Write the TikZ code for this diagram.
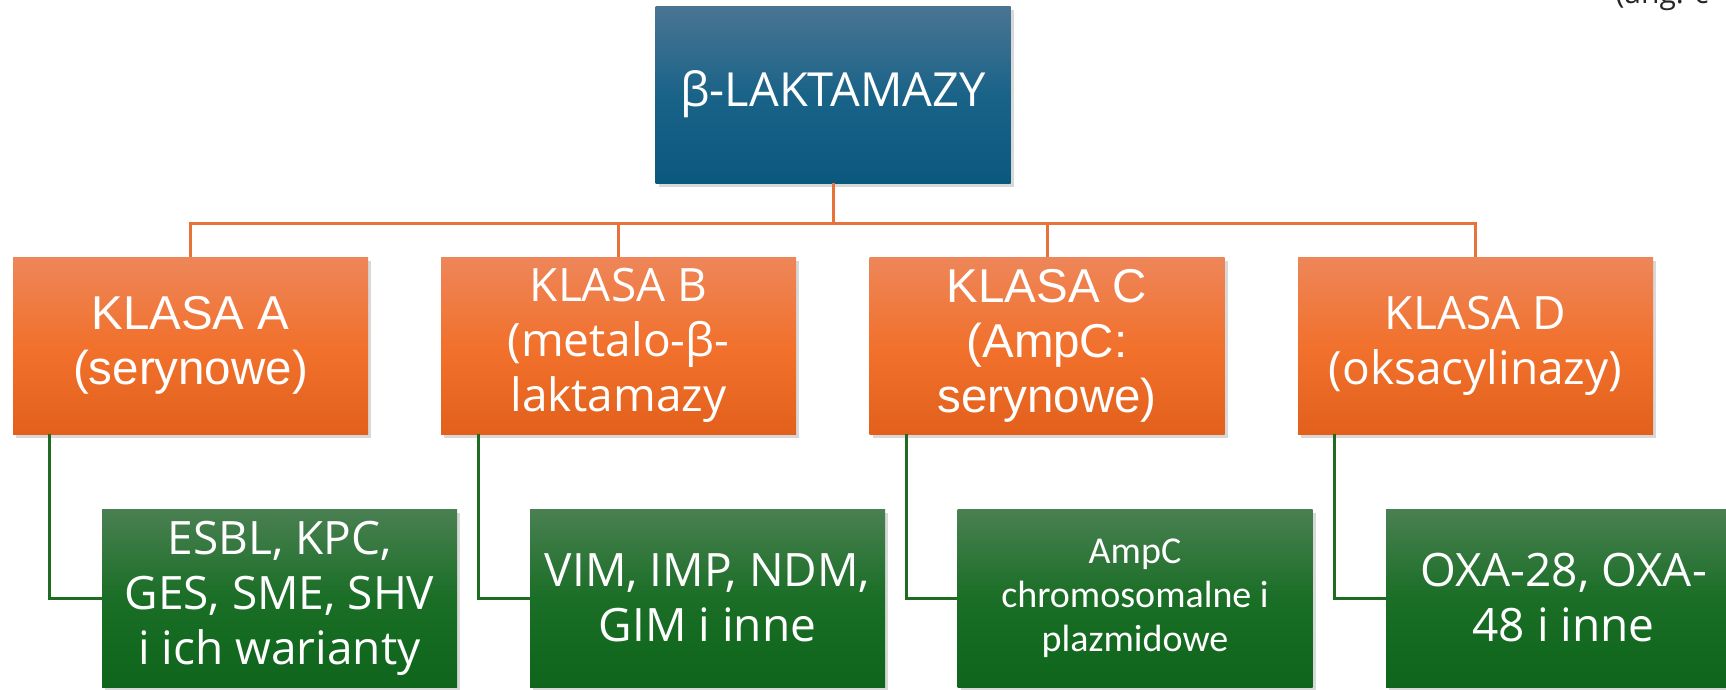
\documentclass[tikz,border=0pt]{standalone}
\usepackage{fontspec}
\setmainfont{Liberation Sans}
\newfontfamily\segoe{Open Sans}
\newfontfamily\aptos{Open Sans}
\newfontfamily\calib{Carlito}
\usetikzlibrary{shadows}
\definecolor{blT}{HTML}{4A7593}
\definecolor{blM}{HTML}{1A6388}
\definecolor{blB}{HTML}{0B587E}
\definecolor{orT}{HTML}{EE8659}
\definecolor{orM}{HTML}{F1712D}
\definecolor{orB}{HTML}{E2601C}
\definecolor{grT}{HTML}{4A8052}
\definecolor{grM}{HTML}{1A6E26}
\definecolor{grB}{HTML}{0F651B}
\definecolor{oline}{HTML}{E8733A}
\definecolor{gline}{HTML}{1E6B22}
\tikzset{
  box/.style={minimum width=355pt, minimum height=177pt, inner sep=0pt, align=center, text=white,
    drop shadow={opacity=0.3, shadow xshift=3pt, shadow yshift=-4pt}},
  bluebox/.style={box, top color=blT, bottom color=blB, middle color=blM},
  orbox/.style={box, top color=orT, bottom color=orB, middle color=orM},
  grbox/.style={box, minimum height=178pt, top color=grT, bottom color=grB, middle color=grM},
  big/.style={font=\fontsize{47.5}{55}\selectfont},
  bigap/.style={font=\aptos\fontsize{46}{55}\selectfont},
  olink/.style={draw=oline, line width=3pt},
  glink/.style={draw=gline, line width=3pt}
}
\begin{document}
\begin{tikzpicture}[x=1pt,y=-1pt]
\clip (0,0) rectangle (1726,689);
\fill[white] (0,0) rectangle (1726,689);
\node[anchor=base west, font=\segoe\fontsize{30}{36}\selectfont, text=black!85] (ang) at (1612,3) {(ang. c};
% top
\node[bluebox, font=\segoe\fontsize{47}{55}\selectfont] (top) at (833,94.5) {β-LAKTAMAZY};
% classes
\node[orbox, big] (ka) at (190.5,345.5) {KLASA A\\(serynowe)};
\node[orbox, bigap] (kb) at (618.5,345.5) {KLASA B\\(metalo-β-\\laktamazy};
\node[orbox, big] (kc) at (1047,345.5) {KLASA C\\(AmpC:\\serynowe)};
\node[orbox, bigap] (kd) at (1475.5,345.5) {KLASA D\\(oksacylinazy)};
% examples
\node[grbox, bigap] (ga) at (279.5,598) {ESBL, KPC,\\GES, SME, SHV\\i ich warianty};
\node[grbox, bigap] (gb) at (707.5,598) {VIM, IMP, NDM,\\GIM i inne};
\node[grbox, font=\calib\fontsize{38}{44}\selectfont] (gc) at (1135,598) {AmpC\\chromosomalne i\\plazmidowe};
\node[grbox, bigap] (gd) at (1563.5,598) {OXA-28, OXA-\\48 i inne};
% orange connectors
\coordinate (bus) at (833,223);
\draw[olink] (top.south) -- (bus);
\draw[olink] (ka.north) |- (bus);
\draw[olink] (kb.north) |- (bus);
\draw[olink] (kc.north) |- (bus);
\draw[olink] (kd.north) |- (bus);
% green connectors
\draw[glink] (ka.south -| 49,0) |- (ga.west);
\draw[glink] (kb.south -| 478,0) |- (gb.west);
\draw[glink] (kc.south -| 906,0) |- (gc.west);
\draw[glink] (kd.south -| 1334,0) |- (gd.west);
\end{tikzpicture}
\end{document}
